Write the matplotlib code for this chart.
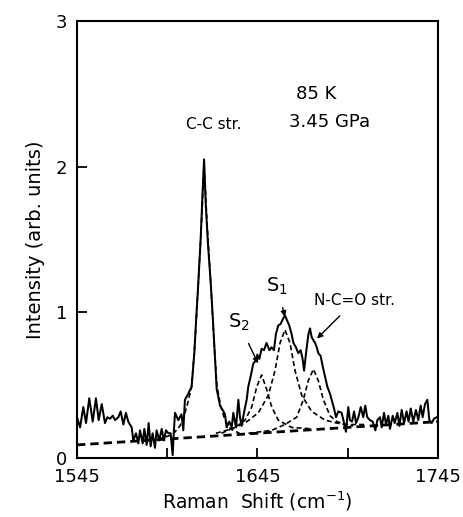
import matplotlib
matplotlib.use("Agg")
import matplotlib.pyplot as plt

# ---- data ----
spec_x = [1545, 1546.7, 1548.5, 1550, 1551.8, 1553.7, 1555.5, 1557, 1558.7, 1560.5,
          1561.8, 1563.3, 1564.8, 1566.1, 1567.9, 1569.2, 1570.7, 1572.1, 1573.4, 1575.3,
          1576.2, 1577.7, 1579, 1579.9, 1581.4, 1582.3, 1583.6, 1584.7, 1585.8, 1586.9,
          1588.2, 1589.1, 1590.6, 1591.9, 1593.2, 1594.3, 1595.6, 1596.9, 1598, 1598.7,
          1599.3, 1601.1, 1602.9, 1603.9, 1604.8, 1606.6, 1608.5, 1610, 1611, 1612.2,
          1613.5, 1614.5, 1615.4, 1616.3, 1617.5, 1619.1, 1620.3, 1621.3, 1622.4, 1623.3,
          1624.2, 1625.7, 1627, 1627.9, 1629.4, 1630.7, 1631.6, 1633.1, 1634.4, 1635.3,
          1636.2, 1637.5, 1639, 1639.9, 1641.2, 1642.7, 1644.2, 1644.9, 1646, 1647.3,
          1648.6, 1650, 1651.6, 1652.8, 1654.1, 1655.2, 1656.5, 1657.8, 1658.9, 1660.2,
          1661.2, 1662.6, 1663.9, 1664.9, 1666.3, 1667.6, 1668.9, 1670, 1670.8, 1671.9,
          1673.2, 1674.1, 1675, 1675.9, 1676.9, 1677.8, 1678.7, 1680, 1681.1, 1682.4,
          1683.7, 1685.2, 1686.1, 1687.4, 1688.5, 1689.8, 1691.6, 1692.6, 1694, 1695.3,
          1696.2, 1697.4, 1698.5, 1699.6, 1700.9, 1702.2, 1703.6, 1704.7, 1705.8, 1707.3,
          1708.8, 1710.3, 1711.4, 1712.9, 1713.8, 1715.1, 1716.2, 1717.5, 1718.4, 1719.9,
          1721, 1722.5, 1723.6, 1724.9, 1726.2, 1727.6, 1728.7, 1729.9, 1731.3, 1732.8,
          1734.1, 1735.4, 1736.5, 1737.8, 1739.1, 1740.2, 1741.5, 1742.8, 1744.3, 1745]
spec_y = [0.28, 0.21, 0.35, 0.24, 0.41, 0.25, 0.41, 0.26, 0.37, 0.24,
          0.28, 0.27, 0.29, 0.26, 0.28, 0.32, 0.23, 0.31, 0.25, 0.21,
          0.12, 0.17, 0.10, 0.19, 0.10, 0.20, 0.09, 0.24, 0.08, 0.17,
          0.07, 0.19, 0.12, 0.20, 0.12, 0.19, 0.17, 0.17, 0.02, 0.19,
          0.31, 0.26, 0.30, 0.19, 0.40, 0.44, 0.49, 0.72, 0.95, 1.20,
          1.50, 1.80, 2.05, 1.75, 1.48, 1.20, 0.95, 0.72, 0.47, 0.42,
          0.36, 0.33, 0.30, 0.21, 0.25, 0.21, 0.31, 0.21, 0.40, 0.28,
          0.22, 0.31, 0.40, 0.49, 0.56, 0.65, 0.67, 0.71, 0.68, 0.75,
          0.74, 0.79, 0.74, 0.76, 0.74, 0.85, 0.91, 0.92, 0.95, 0.98,
          0.95, 0.91, 0.85, 0.79, 0.76, 0.72, 0.74, 0.68, 0.60, 0.72,
          0.85, 0.89, 0.83, 0.81, 0.79, 0.76, 0.72, 0.70, 0.63, 0.56,
          0.49, 0.44, 0.40, 0.34, 0.28, 0.32, 0.31, 0.26, 0.18, 0.35,
          0.26, 0.25, 0.32, 0.24, 0.28, 0.35, 0.28, 0.36, 0.28, 0.26,
          0.25, 0.19, 0.26, 0.28, 0.21, 0.31, 0.23, 0.29, 0.20, 0.29,
          0.24, 0.31, 0.22, 0.33, 0.24, 0.32, 0.25, 0.34, 0.25, 0.33,
          0.26, 0.36, 0.28, 0.37, 0.40, 0.26, 0.24, 0.27, 0.28, 0.28]

base_x = [1545, 1745]
base_y = [0.09, 0.25]

cc_x = [1590, 1598, 1602, 1604, 1606, 1608.5, 1610.5, 1612.2, 1614, 1615.4,
        1617, 1619.1, 1620.8, 1622.5, 1624.5, 1627, 1630, 1635]
cc_y = [0.13, 0.16, 0.22, 0.28, 0.36, 0.49, 0.82, 1.20, 1.62, 2.03,
        1.62, 1.20, 0.82, 0.50, 0.36, 0.26, 0.20, 0.17]

s2_x = [1625, 1632.5, 1638.1, 1641.8, 1644.6, 1647.3, 1650.1, 1652.9, 1656.5, 1663.9, 1675]
s2_y = [0.17, 0.21, 0.26, 0.35, 0.49, 0.57, 0.47, 0.35, 0.26, 0.21, 0.20]

s1_x = [1622, 1630.7, 1638.1, 1645.4, 1651, 1654.7, 1657.5, 1660.2, 1663, 1665.8,
        1669.5, 1675, 1682.4, 1688.9, 1698]
s1_y = [0.17, 0.20, 0.24, 0.31, 0.43, 0.60, 0.79, 0.88, 0.79, 0.60,
        0.43, 0.32, 0.26, 0.24, 0.22]

nco_x = [1640, 1652.9, 1660.2, 1666.7, 1670.4, 1673.1, 1676, 1678.7, 1681.5, 1685.2,
         1688.9, 1694, 1705]
nco_y = [0.17, 0.19, 0.23, 0.28, 0.40, 0.53, 0.61, 0.53, 0.40, 0.29,
         0.25, 0.23, 0.23]

x_major = [1545, 1645, 1745]
x_minor = [1595, 1695]
y_ticks = [0, 1, 2, 3]

# ---- figure ----
plt.rcParams['font.family'] = ['DejaVu Sans']
fig = plt.figure(figsize=(4.63, 5.17), dpi=100)
ax = fig.add_axes([0.1663, 0.1141, 0.7797, 0.8453])

dash = (0, (3.0, 1.8))
ax.plot(base_x, base_y, color='black', lw=2.0, linestyle=dash)
for xs, ys in [(cc_x, cc_y), (s2_x, s2_y), (s1_x, s1_y), (nco_x, nco_y)]:
    ax.plot(xs, ys, color='black', lw=1.2, linestyle=dash)
ax.plot(spec_x, spec_y, color='black', lw=1.45)

ax.set_xlim(1545, 1745)
ax.set_ylim(0, 3)
ax.set_xticks(x_major)
ax.set_xticks(x_minor, minor=True)
ax.set_yticks(y_ticks)
ax.tick_params(which='both', direction='in', length=7, width=1.3,
               top=False, right=False, labelsize=13, pad=7)
for s in ax.spines.values():
    s.set_linewidth(1.5)

ax.set_xlabel(r'Raman  Shift (cm$^{\mathregular{-1}}$)', fontsize=13.5, labelpad=3)
ax.set_ylabel('Intensity (arb. units)', fontsize=14, labelpad=8)

ax.text(1677.4, 2.5, '85 K', fontsize=13, ha='center', va='center')
ax.text(1685, 2.31, '3.45 GPa', fontsize=13, ha='center', va='center')
ax.text(1620.9, 2.29, 'C-C str.', fontsize=11, ha='center', va='center')

ax.annotate(r'S$_\mathregular{2}$', xy=(1645.3, 0.65), xytext=(1634.5, 0.93),
            fontsize=14, ha='center', va='center',
            arrowprops=dict(arrowstyle='-|>', color='black', lw=1.0,
                            mutation_scale=8, shrinkA=6, shrinkB=0))
ax.annotate(r'S$_\mathregular{1}$', xy=(1660.2, 0.97), xytext=(1656, 1.18),
            fontsize=14, ha='center', va='center',
            arrowprops=dict(arrowstyle='-|>', color='black', lw=1.0,
                            mutation_scale=8, shrinkA=6, shrinkB=0))
ax.annotate('N-C=O str.', xy=(1678, 0.82), xytext=(1699, 1.08),
            fontsize=11, ha='center', va='center',
            arrowprops=dict(arrowstyle='-|>', color='black', lw=1.0,
                            mutation_scale=8, shrinkA=5, shrinkB=0))

fig.savefig('out.png', dpi=100)
